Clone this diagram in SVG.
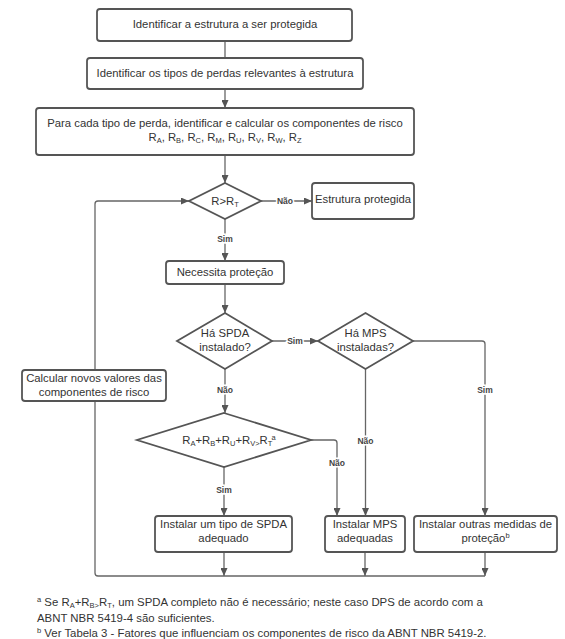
<svg xmlns="http://www.w3.org/2000/svg" width="565" height="639" viewBox="0 0 565 639">
<style>
.box{fill:#fff;stroke:#555;stroke-width:1.8}
.t{font-family:"Liberation Sans",Arial,sans-serif;font-size:11.3px;fill:#333;text-anchor:middle}
.lbl{font-family:"Liberation Sans",Arial,sans-serif;font-size:8.5px;font-weight:bold;fill:#444;text-anchor:middle;stroke:#fff;stroke-width:3px;paint-order:stroke}
.c{fill:none;stroke:#666;stroke-width:1.3}
.fn{font-family:"Liberation Sans",Arial,sans-serif;font-size:11.4px;fill:#333}
.sub{font-size:7.5px}
</style>
<defs>
<marker id="ah" markerUnits="userSpaceOnUse" markerWidth="9" markerHeight="7" refX="8" refY="3.5" orient="auto">
<path d="M0,0 L8,3.5 L0,7 z" fill="#555"/>
</marker>
</defs>
<g id="connectors">
<path class="c" d="M225,41 V58"/>
<path class="c" d="M225,89 V108" marker-end="url(#ah)"/>
<path class="c" d="M225,155 V183" marker-end="url(#ah)"/>
<path class="c" d="M261,201 H312" marker-end="url(#ah)"/>
<path class="c" d="M225,219 V261" marker-end="url(#ah)"/>
<path class="c" d="M225,284 V313" marker-end="url(#ah)"/>
<path class="c" d="M272,341 H318" marker-end="url(#ah)"/>
<path class="c" d="M413,341 H482 Q485,341 485,344 V516" marker-end="url(#ah)"/>
<path class="c" d="M365.5,369 V516" marker-end="url(#ah)"/>
<path class="c" d="M225,369 V413" marker-end="url(#ah)"/>
<path class="c" d="M311,440 H334 Q337,440 337,443 V516" marker-end="url(#ah)"/>
<path class="c" d="M224,467 V516" marker-end="url(#ah)"/>
<path class="c" d="M224,552 V576" marker-end="url(#ah)"/>
<path class="c" d="M365,552 V576" marker-end="url(#ah)"/>
<path class="c" d="M485,552 V576" marker-end="url(#ah)"/>
<path class="c" d="M485,576 H98 Q95,576 95,573 V204 Q95,201 98,201 H189" marker-end="url(#ah)"/>
<text class="lbl" x="285" y="204">Não</text>
<text class="lbl" x="225" y="242">Sim</text>
<text class="lbl" x="295" y="344">Sim</text>
<text class="lbl" x="485" y="393">Sim</text>
<text class="lbl" x="225" y="393">Não</text>
<text class="lbl" x="365.5" y="444">Não</text>
<text class="lbl" x="337" y="466">Não</text>
<text class="lbl" x="224" y="493">Sim</text>
</g>
<g id="n1"><rect class="box" x="97" y="9" width="255" height="32" rx="3"/><text class="t" x="225" y="28">Identificar a estrutura a ser protegida</text></g>
<g id="n2"><rect class="box" x="87" y="58" width="276" height="31" rx="3"/><text class="t" x="225" y="77">Identificar os tipos de perdas relevantes à estrutura</text></g>
<g id="n3"><rect class="box" x="36" y="108" width="378" height="47" rx="3"/>
<text class="t" x="225" y="127">Para cada tipo de perda, identificar e calcular os componentes de risco</text>
<text class="t" x="225" y="141">R<tspan class="sub" dy="2">A</tspan><tspan dy="-2">, R</tspan><tspan class="sub" dy="2">B</tspan><tspan dy="-2">, R</tspan><tspan class="sub" dy="2">C</tspan><tspan dy="-2">, R</tspan><tspan class="sub" dy="2">M</tspan><tspan dy="-2">, R</tspan><tspan class="sub" dy="2">U</tspan><tspan dy="-2">, R</tspan><tspan class="sub" dy="2">V</tspan><tspan dy="-2">, R</tspan><tspan class="sub" dy="2">W</tspan><tspan dy="-2">, R</tspan><tspan class="sub" dy="2">Z</tspan></text></g>
<g id="d1"><polygon class="box" points="225,183 261,201 225,219 189,201"/><text class="t" x="225" y="205">R&gt;R<tspan class="sub" dy="2">T</tspan></text></g>
<g id="n4"><rect class="box" x="312" y="183" width="102" height="36" rx="3"/><text class="t" x="363" y="203">Estrutura protegida</text></g>
<g id="n5"><rect class="box" x="166" y="261" width="118" height="23" rx="3"/><text class="t" x="225" y="276">Necessita proteção</text></g>
<g id="d2"><polygon class="box" points="225,313 272,341 225,369 177,341"/><text class="t" x="225" y="337">Há SPDA</text><text class="t" x="225" y="351">instalado?</text></g>
<g id="d3"><polygon class="box" points="365.5,313 413,341 365.5,369 318,341"/><text class="t" x="365.5" y="337">Há MPS</text><text class="t" x="365.5" y="351">instaladas?</text></g>
<g id="n6"><rect class="box" x="22" y="370" width="144" height="31" rx="3"/><text class="t" x="94" y="382">Calcular novos valores das</text><text class="t" x="94" y="396">componentes de risco</text></g>
<g id="d4"><polygon class="box" points="224,413 311,440 224,467 137,440"/><text class="t" x="229" y="444">R<tspan class="sub" dy="2">A</tspan><tspan dy="-2">+R</tspan><tspan class="sub" dy="2">B</tspan><tspan dy="-2">+R</tspan><tspan class="sub" dy="2">U</tspan><tspan dy="-2">+R</tspan><tspan class="sub" dy="2">V&gt;</tspan><tspan dy="-2">R</tspan><tspan class="sub" dy="2">T</tspan><tspan class="sub" dy="-6">a</tspan></text></g>
<g id="n7"><rect class="box" x="155" y="516" width="137" height="36" rx="3"/><text class="t" x="223.5" y="528">Instalar um tipo de SPDA</text><text class="t" x="223.5" y="542">adequado</text></g>
<g id="n8"><rect class="box" x="325" y="516" width="80" height="36" rx="3"/><text class="t" x="365" y="528">Instalar MPS</text><text class="t" x="365" y="542">adequadas</text></g>
<g id="n9"><rect class="box" x="414" y="516" width="143" height="36" rx="3"/><text class="t" x="485.5" y="528">Instalar outras medidas de</text><text class="t" x="485.5" y="542">proteção<tspan class="sub" dy="-4">b</tspan></text></g>
<g id="footnotes">
<text class="fn" x="37" y="606"><tspan class="sub" dy="-4">a</tspan><tspan dy="4"> Se R</tspan><tspan class="sub" dy="2">A</tspan><tspan dy="-2">+R</tspan><tspan class="sub" dy="2">B&gt;</tspan><tspan dy="-2">R</tspan><tspan class="sub" dy="2">T</tspan><tspan dy="-2">, um SPDA completo não é necessário; neste caso DPS de acordo com a</tspan></text>
<text class="fn" x="37" y="622">ABNT NBR 5419-4 são suficientes.</text>
<text class="fn" x="37" y="637"><tspan class="sub" dy="-4">b</tspan><tspan dy="4"> Ver Tabela 3 - Fatores que influenciam os componentes de risco da ABNT NBR 5419-2.</tspan></text>
</g>
</svg>
